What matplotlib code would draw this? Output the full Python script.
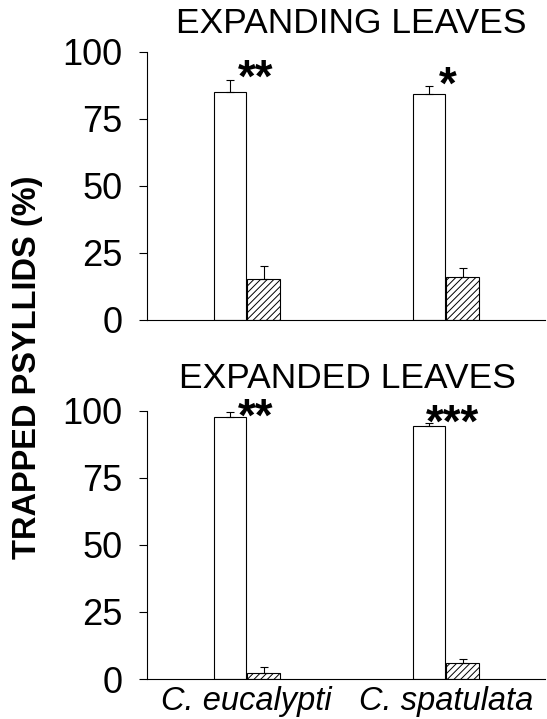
import numpy as np
import matplotlib
matplotlib.use("Agg")
import matplotlib.pyplot as plt

plt.rcParams['font.family'] = ['Liberation Sans', 'DejaVu Sans']
plt.rcParams['hatch.linewidth'] = 0.7

species = ['C. eucalypti', 'C. spatulata']
yticks = [0, 25, 50, 75, 100]

# expanding leaves: open bars / hatched bars, with SE
expanding_open = [85, 84.3]
expanding_open_err = [4.5, 3.0]
expanding_hatch = [15.3, 16]
expanding_hatch_err = [4.7, 3.4]
expanding_stars = ['**', '*']

# expanded leaves
expanded_open = [97.8, 94.4]
expanded_open_err = [1.8, 1.1]
expanded_hatch = [2.4, 6.0]
expanded_hatch_err = [2.1, 1.5]
expanded_stars = ['**', '***']

fig = plt.figure(figsize=(5.47, 7.19), dpi=100)
ax1 = fig.add_axes([0.269, 0.555, 0.728, 0.373])
ax2 = fig.add_axes([0.269, 0.0556, 0.728, 0.373])

x = np.array([0.5, 1.5])
w = 0.163
star_dx = {'*': 0.012, '**': 0.045, '***': 0.035}


def panel(ax, op, op_err, ha, ha_err, stars, star_y):
    ax.bar(x - w / 2 - 0.003, op, w, color='white', edgecolor='black', linewidth=0.8)
    ax.bar(x + w / 2 + 0.003, ha, w, color='white', edgecolor='black', linewidth=0.8, hatch='/////')
    ax.errorbar(x - w / 2 - 0.003, op, yerr=[np.zeros(2), op_err], fmt='none',
                ecolor='black', elinewidth=0.8, capsize=3, capthick=0.8)
    ax.errorbar(x + w / 2 + 0.003, ha, yerr=[np.zeros(2), ha_err], fmt='none',
                ecolor='black', elinewidth=0.8, capsize=3, capthick=0.8)
    for i, s in enumerate(stars):
        ax.text(x[i] + star_dx[s], star_y[i], s, ha='center', va='center',
                fontsize=33, fontweight='bold')
    ax.set_xlim(0, 2)
    ax.set_ylim(0, 100)
    ax.set_yticks(yticks)
    ax.spines['top'].set_visible(False)
    ax.spines['right'].set_visible(False)
    ax.tick_params(axis='y', direction='out', length=6, width=0.8, labelsize=26, pad=12)
    ax.tick_params(axis='x', length=0)


panel(ax1, expanding_open, expanding_open_err, expanding_hatch, expanding_hatch_err,
      expanding_stars, [89.5, 87])
panel(ax2, expanded_open, expanded_open_err, expanded_hatch, expanded_hatch_err,
      expanded_stars, [97, 95])

ax1.set_xticks([])
ax2.set_xticks(x)
ax2.set_xticklabels(species, fontsize=23.5, fontstyle='italic')
ax2.tick_params(axis='x', pad=5)

fig.text(0.643, 0.968, 'EXPANDING LEAVES', ha='center', va='center', fontsize=25.5)
fig.text(0.635, 0.474, 'EXPANDED LEAVES', ha='center', va='center', fontsize=25.5)
fig.text(0.05, 0.489, 'TRAPPED PSYLLIDS (%)', ha='center', va='center', rotation=90,
         fontsize=23.5, fontweight='bold')

fig.savefig('out.png', dpi=100)
